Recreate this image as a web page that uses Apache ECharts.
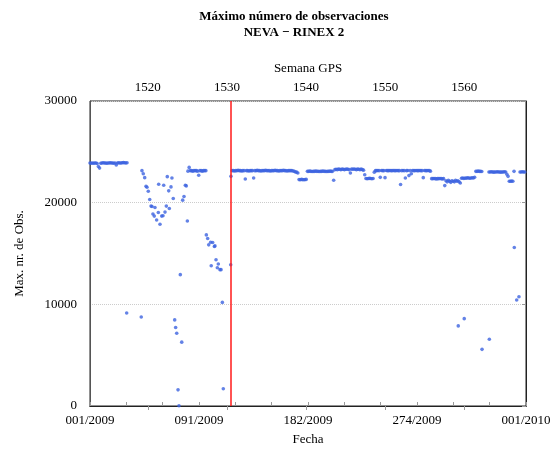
<!DOCTYPE html>
<html style="height: 100%">
<head>
    <meta charset="UTF-8">
    <script src="https://cdn.jsdelivr.net/npm/echarts@6/dist/echarts.min.js"></script>
</head>
<body style="margin: 0; background-color: #ffffff">
    <div id="paint" style="width: 555px; height: 451px;"></div>
<script>
    // dia del anio (0 = 1 de enero de 2009) y maximo numero de observaciones
    var inicioTramo1 = 0;
    var obsTramo1 = [23900, 23880, 23900, 23870, 23900, 23900, 23850, 23560, 23400, 23880,
        23900, 23920, 23900, 23900, 23880, 23900, 23900, 23920, 23900, 23900,
        23880, 23900, 23700, 23900, 23920, 23900, 23900, 23920, 23940, 23920,
        23900, 23920];

    var inicioTramo2 = 82;
    var obsTramo2 = [23100, 23470, 23150, 23150, 23100, 23150, 23150, 23150, 23100, 22690,
        23150, 23150, 23100, 23150, 23150, 23150];

    var inicioTramo3 = 118;
    var obsTramo3 = [22590,
        23150, 23150, 23120, 23150, 23150, 23180, 23150, 23150, 23120, 23150,
        23150, 22330, 23150, 23150, 23120, 23150, 23150, 23150, 22430, 23150,
        23150, 23180, 23150, 23150, 23120, 23150, 23150, 23150, 23180, 23150,
        23150, 23150, 23120, 23150, 23150, 23150, 23180, 23150, 23150, 23120,
        23150, 23150, 23150, 23180, 23150, 23150, 23120, 23150, 23150, 23150,
        23150, 23120, 23080, 23020, 23000, 22920,
        22270, 22250, 22290, 22270, 22250, 22270, 22290,
        23080, 23080, 23100, 23080, 23060, 23080, 23080, 23100, 23080, 23080,
        23060, 23080, 23080, 23100, 23080, 23080, 23060, 23080, 23080, 23100, 23080, 23080,
        22200,
        23250, 23280, 23250, 23300, 23280, 23250, 23300, 23280, 23250, 23280,
        23300, 23280, 23250, 22920, 23300, 23280, 23310, 23280, 23250, 23300,
        23280, 23250, 23300, 23250, 23200,
        22750,
        22370, 22350, 22370, 22390, 22370, 22350, 22370,
        23000, 23150, 23150, 23170, 23150, 22490, 23170, 23150, 23150, 22460,
        23170, 23150, 23150, 23170, 23150, 23150, 23170, 23150, 23150, 23170,
        23150, 23150, 21780, 23150, 23170, 23150, 22430, 23150, 23170, 22660,
        23150, 22850, 23170, 23150, 23150, 23170, 23150, 23150, 23170, 23150,
        23150, 22460, 23170, 23150, 23150, 23170, 23150, 23100,
        22360, 22360, 22380, 22360, 22340, 22360, 22360, 22380, 22360, 22340, 22360,
        21680,
        22150, 22050, 22200, 22100, 22000, 22150, 22100, 22050, 22200, 22100, 22150, 22050,
        21940,
        22400, 22430, 22380, 22430, 22400, 22450, 22430, 22400, 22430, 22450, 22430, 22500,
        23080, 23080, 23100, 23080, 23080, 23060,
        null, null, null, null, null,
        23020, 23020, 23040, 23020, 23000, 23020, 23020, 23040, 23020, 23020, 23000, 23020, 23020, 23040, 23020,
        22800, 22590,
        22100, 22100, 22120, 22100,
        23080,
        null, null, null, null,
        23020, 23020, 23040, 23020, 23020];

    var puntosSueltos = [
        [30.7, 9150], [42.9, 8760], [43.5, 23150], [44.6, 22850], [45.8, 22460], [46.9, 21610],
        [47.7, 21510], [48.8, 21120], [50.0, 20310], [51.1, 19660], [51.9, 19630], [52.7, 18880],
        [53.8, 18680], [54.4, 19530], [55.8, 18290], [57.2, 19040], [57.5, 21810], [58.6, 17870],
        [60.0, 18680], [61.1, 18720], [61.7, 21710], [62.8, 19070], [63.9, 19660], [64.7, 22560],
        [65.9, 21160], [66.4, 19430], [67.8, 21550], [68.6, 22430], [69.7, 20410], [70.9, 8470],
        [71.7, 7720], [72.6, 7160], [73.7, 1590], [74.5, 30], [75.6, 12920], [76.8, 6280],
        [77.6, 20250], [78.7, 20610], [79.8, 21710], [80.6, 21650], [81.5, 18190],
        [97.4, 16830], [98.5, 16480], [99.4, 15850], [101.0, 16110], [101.5, 13800], [102.7, 16080],
        [104.1, 15690], [104.6, 15750], [105.5, 14390], [106.6, 13600], [107.4, 13970], [108.8, 13410],
        [109.7, 13410], [110.8, 10190], [111.6, 1690], [117.8, 13900],
        [308.3, 7880], [313.3, 8590], [328.2, 5570], [334.3, 6570],
        [355.2, 15590], [357.2, 10420], [359.1, 10740]
    ];

    var diaCambio = 117.5;   // linea roja
    var etiquetasFecha = ['001/2009', '091/2009', '182/2009', '274/2009', '001/2010'];
    var semanasGPS = [1520, 1530, 1540, 1550, 1560];

    function tramo(inicio, valores) {
        var out = [];
        for (var i = 0; i < valores.length; i++) {
            if (valores[i] !== null) out.push([inicio + i, valores[i]]);
        }
        return out;
    }

    var datos = tramo(inicioTramo1, obsTramo1)
        .concat(tramo(inicioTramo2, obsTramo2))
        .concat(tramo(inicioTramo3, obsTramo3))
        .concat(puntosSueltos);

    var ticksMes = [];
    for (var m = 0; m <= 12; m++) ticksMes.push(m * 365 / 12);
    var posEtiquetas = [0, 91.25, 182.5, 273.75, 365];

    var fuente = 'Liberation Serif';
    var sinComas = function (v) { return String(Math.round(v)); };

    echarts.init(document.getElementById('paint')).setOption({
        backgroundColor: '#ffffff',
        animation: false,
        textStyle: {fontFamily: fuente},
        title: {
            text: 'Máximo número de observaciones\nNEVA − RINEX 2',
            left: 289,
            top: 4,
            textAlign: 'center',
            textStyle: {fontFamily: fuente, fontSize: 13, fontWeight: 'bold', color: '#000', lineHeight: 16}
        },
        grid: {
            left: 90,
            right: 29,
            top: 101,
            bottom: 43,
            show: true,
            borderColor: '#222',
            borderWidth: 1
        },
        xAxis: [
            {
                type: 'value',
                position: 'bottom',
                min: 0,
                max: 365,
                name: 'Fecha',
                nameLocation: 'middle',
                nameGap: 27,
                nameTextStyle: {fontFamily: fuente, fontSize: 13, color: '#000'},
                axisLine: {lineStyle: {color: '#222'}},
                axisTick: {inside: true, length: 4, customValues: ticksMes, lineStyle: {color: '#999'}},
                axisLabel: {
                    customValues: posEtiquetas,
                    margin: 8,
                    fontFamily: fuente, fontSize: 13, color: '#000',
                    formatter: function (v) { return etiquetasFecha[Math.round(v / 91.25)]; }
                },
                splitLine: {show: false}
            },
            {
                type: 'value',
                position: 'top',
                min: 1512.7,
                max: 1567.8,
                name: 'Semana GPS',
                nameLocation: 'middle',
                nameGap: 26,
                nameTextStyle: {fontFamily: fuente, fontSize: 13, color: '#000'},
                axisLine: {lineStyle: {color: '#222'}},
                axisTick: {inside: true, length: 4, customValues: semanasGPS, lineStyle: {color: '#999'}},
                axisLabel: {customValues: semanasGPS, margin: 7, fontFamily: fuente, fontSize: 13, color: '#000', formatter: sinComas},
                splitLine: {show: false}
            }
        ],
        yAxis: [
            {
                type: 'value',
                min: 0,
                max: 30000,
                interval: 10000,
                name: 'Max. nr. de Obs.',
                nameLocation: 'middle',
                nameGap: 64,
                nameTextStyle: {fontFamily: fuente, fontSize: 13, color: '#000'},
                axisLine: {show: true, lineStyle: {color: '#555'}},
                axisTick: {show: false},
                axisLabel: {margin: 13, fontFamily: fuente, fontSize: 13, color: '#000', formatter: sinComas},
                splitLine: {show: true, lineStyle: {color: '#cccccc', type: 'dotted'}}
            },
            {
                type: 'value',
                position: 'right',
                min: 0,
                max: 30000,
                interval: 10000,
                axisLine: {show: true, lineStyle: {color: '#222'}},
                axisTick: {show: true, inside: true, length: 4, lineStyle: {color: '#999'}},
                axisLabel: {show: false},
                splitLine: {show: false}
            }
        ],
        series: [
            {
                type: 'scatter',
                xAxisIndex: 0,
                yAxisIndex: 0,
                symbolSize: 3.6,
                itemStyle: {color: '#3c63e0'},
                data: datos,
                markLine: {
                    silent: true,
                    symbol: 'none',
                    label: {show: false},
                    lineStyle: {color: '#ff1a1a', width: 1.5, type: 'solid'},
                    data: [{xAxis: diaCambio}]
                }
            }
        ]
    });
</script>
</body>
</html>
